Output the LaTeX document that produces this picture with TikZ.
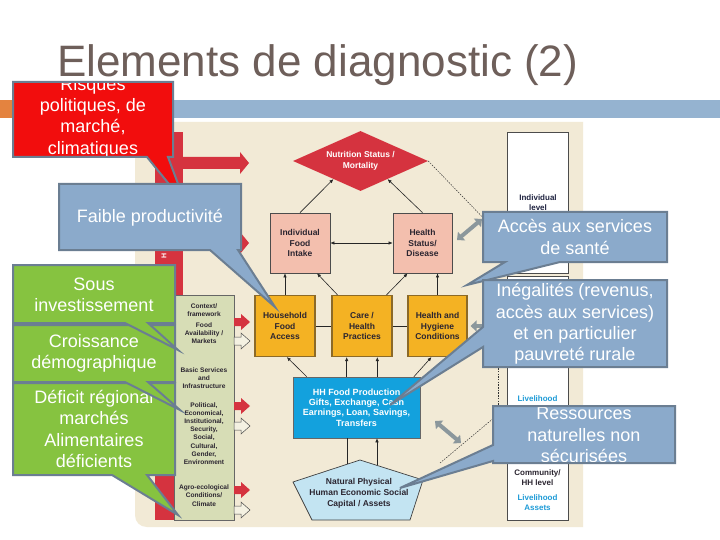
\documentclass[tikz,border=0pt]{standalone}
\usepackage{fontspec}
\setmainfont{Liberation Sans}
\usetikzlibrary{shapes.geometric,arrows.meta,calc}
\definecolor{titlegray}{HTML}{6E5F5A}
\definecolor{barblue}{HTML}{95B3D0}
\definecolor{barorange}{HTML}{E4833F}
\definecolor{beige}{HTML}{F2EAD6}
\definecolor{dred}{HTML}{D5333F}
\definecolor{pinkb}{HTML}{F3BFAE}
\definecolor{orangeb}{HTML}{F4B223}
\definecolor{orangeedge}{HTML}{8C6A28}
\definecolor{cyanb}{HTML}{13A1DD}
\definecolor{pentb}{HTML}{C3E4F2}
\definecolor{ctxg}{HTML}{D7DDB6}
\definecolor{greyarr}{HTML}{8B979C}
\definecolor{navy}{HTML}{1F2340}
\definecolor{lbluet}{HTML}{1E9BD7}
\definecolor{darkt}{HTML}{2B2530}
\definecolor{cred}{HTML}{F20D0D}
\definecolor{cblue}{HTML}{8BAACB}
\definecolor{cgreen}{HTML}{86C340}
\definecolor{cborder}{HTML}{6B7E92}
\definecolor{palearr}{HTML}{F4F1E2}
\tikzset{
  smalltxt/.style={font=\bfseries\fontsize{8.5}{10.5}\selectfont, align=center, text=darkt, inner sep=0pt},
  ctxtxt/.style={font=\bfseries\fontsize{6.6}{8.2}\selectfont, align=center, text=darkt, inner sep=0pt},
  pinkbox/.style={rectangle, fill=pinkb, draw=black!70, line width=0.7pt, minimum width=60pt, minimum height=60pt, smalltxt},
  orangebox/.style={rectangle, fill=orangeb, draw=orangeedge, line width=1.2pt, minimum width=60pt, minimum height=61pt, smalltxt},
  whitebox/.style={rectangle, fill=white, draw=black!70, line width=0.8pt, minimum width=61pt},
  conn/.style={draw=black!85, line width=0.6pt, -{Latex[length=4pt,width=3.5pt]}},
  dconn/.style={draw=black!85, line width=0.6pt, {Latex[length=4pt,width=3.5pt]}-{Latex[length=4pt,width=3.5pt]}},
  plainline/.style={draw=black!85, line width=0.6pt},
  garrow/.style={draw=greyarr, line width=4pt, {Triangle[length=6pt,width=11pt]}-{Triangle[length=6pt,width=11pt]}},
  garrowone/.style={draw=greyarr, line width=4pt, -{Triangle[length=6pt,width=11pt]}},
  dline/.style={draw=black!80, line width=0.5pt, dash pattern=on 1.5pt off 1.2pt},
  cborderline/.style={draw=cborder, line width=2pt, line join=miter},
  ctext/.style={font=\fontsize{18}{21.3}\selectfont, text=white, align=center, inner sep=0pt},
  pics/blockarr/.style args={#1/#2/#3/#4}{code={
    \path[pic actions] (0,-#1) -- (#3,-#1) -- (#3,-#2) -- (#4,0) -- (#3,#2) -- (#3,#1) -- (0,#1) -- cycle;}}
}
\def\pRed{(13,82) -- (173,82) -- (173,157) -- (168,157) -- (186,205) -- (147,157) -- (13,157) -- cycle}
\def\pFai{(59,184) -- (241,184) -- (241,250) -- (238,250) -- (275,307) -- (210,250) -- (59,250) -- cycle}
\def\pSous{(13,265) -- (175,265) -- (175,323) -- (148,323) -- (178,350) -- (125,323) -- (13,323) -- cycle}
\def\pCro{(13,325) -- (175,325) -- (175,382) -- (148,382) -- (180,410) -- (125,382) -- (13,382) -- cycle}
\def\pDef{(13,383) -- (175,383) -- (175,475) -- (147,475) -- (178,515) -- (112,475) -- (13,475) -- cycle}
\def\pAcc{(483,212) -- (667,212) -- (667,262) -- (560,262) -- (467,285) -- (505,262) -- (483,262) -- cycle}
\def\pIne{(483,280) -- (667,280) -- (667,367) -- (483,367) -- (483,347) -- (390,405) -- (483,327) -- cycle}
\def\pRes{(493,406) -- (675,406) -- (675,463) -- (493,463) -- (493,461) -- (400,488) -- (493,445) -- cycle}
\begin{document}
\begin{tikzpicture}[x=1pt,y=-1pt]
\useasboundingbox (0,0) rectangle (720,540);
\fill[white] (0,0) rectangle (720,540);
% title and bars
\node[anchor=base west, inner sep=0pt, font=\fontsize{44}{50}\selectfont, text=titlegray] (title) at (57,77) {Elements de diagnostic (2)};
\fill[barorange] (0,100) rectangle (20,118);
\fill[barblue] (24,100) rectangle (720,118);
% diagram background
\fill[beige] (135,122) -- (583,122) -- (583,527) -- (147,527) .. controls (140,527) and (135,522) .. (135,515) -- cycle;
% red vertical bar and arrows
\fill[dred] (155,132) rectangle (183,520);
\node[rotate=90, text=white, font=\bfseries\fontsize{7}{7}\selectfont, inner sep=0pt] (hlab) at (164,256) {H};
\pic[fill=dred] at (183,163) {blockarr=6/11/57/66};
\pic[fill=dred] at (183,243) {blockarr=6/11/57/66};
% context box
\node[rectangle, fill=ctxg, draw=black!60, line width=0.8pt, minimum width=60pt, minimum height=225pt] (ctx) at (204,407.5) {};
\node[ctxtxt] (ctx1) at (204,310) {Context/\\framework};
\node[ctxtxt] (ctx2) at (204,333) {Food\\Availability /\\Markets};
\node[ctxtxt] (ctx3) at (204,378) {Basic Services\\and\\Infrastructure};
\node[ctxtxt] (ctx4) at (204,433.5) {Political,\\Economical,\\Institutional,\\Security,\\Social,\\Cultural,\\Gender,\\Environment};
\node[ctxtxt] (ctx5) at (204,495.5) {Agro-ecological\\Conditions/\\Climate};
\foreach \yy in {322,406,490} {\pic[fill=dred] at (234,\yy) {blockarr=4/8/7/16};}
\foreach \yy in {341,426,510} {\pic[fill=palearr, draw=black!70, line width=0.5pt] at (234,\yy) {blockarr=4/8/7/16};}
% right column
\node[whitebox, minimum height=141pt] (ilv) at (537.5,202.5) {};
\node[whitebox, minimum height=244pt] (llv) at (537.5,398) {};
\node[smalltxt, text=navy, font=\bfseries\fontsize{8}{10}\selectfont] (ilvt) at (538,203) {Individual\\level};
\node[smalltxt, text=lbluet, font=\bfseries\fontsize{8}{10}\selectfont] (lvt) at (537.5,399) {Livelihood};
\node[smalltxt, text=darkt, font=\bfseries\fontsize{8}{9.5}\selectfont] (comm) at (537.5,477.5) {Community/\\HH level};
\node[smalltxt, text=lbluet, font=\bfseries\fontsize{8}{10.5}\selectfont] (lva) at (537.5,502.5) {Livelihood\\Assets};
% main diagram nodes
\node[diamond, aspect=2.25, fill=dred, minimum width=135pt, minimum height=60pt, inner sep=0pt, font=\bfseries\fontsize{8.5}{10.5}\selectfont, text=white, align=center] (nsm) at (360.5,161) {Nutrition Status /\\Mortality};
\node[pinkbox] (ifi) at (300,243) {Individual\\Food\\Intake};
\node[pinkbox, minimum width=59pt] (hsd) at (422.5,243) {Health\\Status/\\Disease};
\node[orangebox] (hfa) at (285,326) {Household\\Food\\Access};
\node[orangebox] (chp) at (362,326) {Care /\\Health\\Practices};
\node[orangebox, minimum width=59pt] (hhc) at (437.5,326) {Health and\\Hygiene\\Conditions};
\node[rectangle, fill=cyanb, draw=black!60, line width=0.6pt, minimum width=127pt, minimum height=61pt, inner sep=0pt, align=center, text=white, font=\bfseries\fontsize{9}{10.3}\selectfont] (hhf) at (356.5,407.5) {HH Food Production\\Gifts, Exchange, Cash\\Earnings, Loan, Savings,\\Transfers};
\filldraw[fill=pentb, draw=black!75, line width=0.7pt] (360,460) -- (423,480) -- (410,520) -- (312,520) -- (293,482) -- cycle;
\node[smalltxt, font=\bfseries\fontsize{8.5}{11}\selectfont] (capt) at (359,493) {Natural Physical\\Human Economic Social\\Capital / Assets};
% connectors
\draw[conn] (ifi.north) -- ($(nsm.west)!0.6!(nsm.south)$);
\draw[conn] (hsd.north) -- ($(nsm.east)!0.6!(nsm.south)$);
\draw[dconn] (ifi.east) -- (hsd.west);
\draw[conn] (hfa.north) -- (hfa.north |- ifi.south);
\draw[conn] ($(chp.north west)!0.1!(chp.north east)$) -- ($(ifi.south west)!0.78!(ifi.south east)$);
\draw[conn] ($(chp.north west)!0.9!(chp.north east)$) -- ($(hsd.south west)!0.25!(hsd.south east)$);
\draw[conn] (hhc.north) -- (hhc.north |- hsd.south);
\draw[plainline] (hfa.east) -- (chp.west);
\draw[plainline] (chp.east) -- (hhc.west);
\draw[conn] ($(hhf.north west)!0.11!(hhf.north east)$) -- ($(hfa.south west)!0.53!(hfa.south east)$);
\coordinate (c1) at ($(chp.south west)!0.25!(chp.south east)$);
\coordinate (c2) at ($(chp.south west)!0.75!(chp.south east)$);
\draw[conn] (c1 |- hhf.north) -- (c1);
\draw[conn] (c2 |- hhf.north) -- (c2);
\draw[conn] ($(hhf.north west)!0.95!(hhf.north east)$) -- ($(hhc.south west)!0.4!(hhc.south east)$);
\coordinate (p1) at (347,464);
\coordinate (p2) at (377,465.4);
\draw[plainline] (p1) -- (p1 |- hhf.south);
\draw[conn] (p2) -- (p2 |- hhf.south);
% dashed lines
\coordinate (d1) at (492,227);
\draw[dline] (nsm.east) -- (d1);
\coordinate (d2a) at (498,360);
\coordinate (d2b) at (498,410);
\draw[dline] (d2a) -- (d2b);
\coordinate (d3a) at (440,463);
\coordinate (d3b) at (495,417);
\draw[dline] (d3a) -- (d3b);
% grey arrows
\coordinate (g1a) at (457,240);
\coordinate (g1b) at (482,219);
\draw[garrow] (g1a) -- (g1b);
\coordinate (g2a) at (492,326);
\draw[garrowone, shorten >=3pt] (g2a) -- (hhc.east);
\coordinate (g3a) at (435,421);
\coordinate (g3b) at (461,443);
\draw[garrow] (g3a) -- (g3b);
% callouts
\fill[cred] \pRed;
\begin{scope}\clip \pRed;
\node[ctext] (tred) at (93,117.5) {Risques\\politiques, de\\marché,\\climatiques};
\end{scope}
\draw[cborderline] \pRed;
\fill[cblue] \pFai;
\node[ctext] (tfai) at (150,218) {Faible productivité};
\draw[cborderline] \pFai;
\fill[cgreen] \pDef;
\node[ctext] (tdef) at (94,429) {Déficit régional\\marchés\\Alimentaires\\déficients};
\draw[cborderline] \pDef;
\fill[cgreen] \pCro;
\node[ctext] (tcro) at (94,353.5) {Croissance\\démographique};
\draw[cborderline] \pCro;
\fill[cgreen] \pSous;
\node[ctext] (tsous) at (94,294.5) {Sous\\investissement};
\draw[cborderline] \pSous;
\fill[cblue] \pAcc;
\node[ctext] (tacc) at (575,237) {Accès aux services\\de santé};
\draw[cborderline] \pAcc;
\fill[cblue] \pIne;
\node[ctext] (tine) at (575,324) {Inégalités (revenus,\\accès aux services)\\et en particulier\\pauvreté rurale};
\draw[cborderline] \pIne;
\fill[cblue] \pRes;
\begin{scope}\clip \pRes;
\node[ctext] (tres) at (584,435) {Ressources\\naturelles non\\sécurisées};
\end{scope}
\draw[cborderline] \pRes;
\end{tikzpicture}
\end{document}
